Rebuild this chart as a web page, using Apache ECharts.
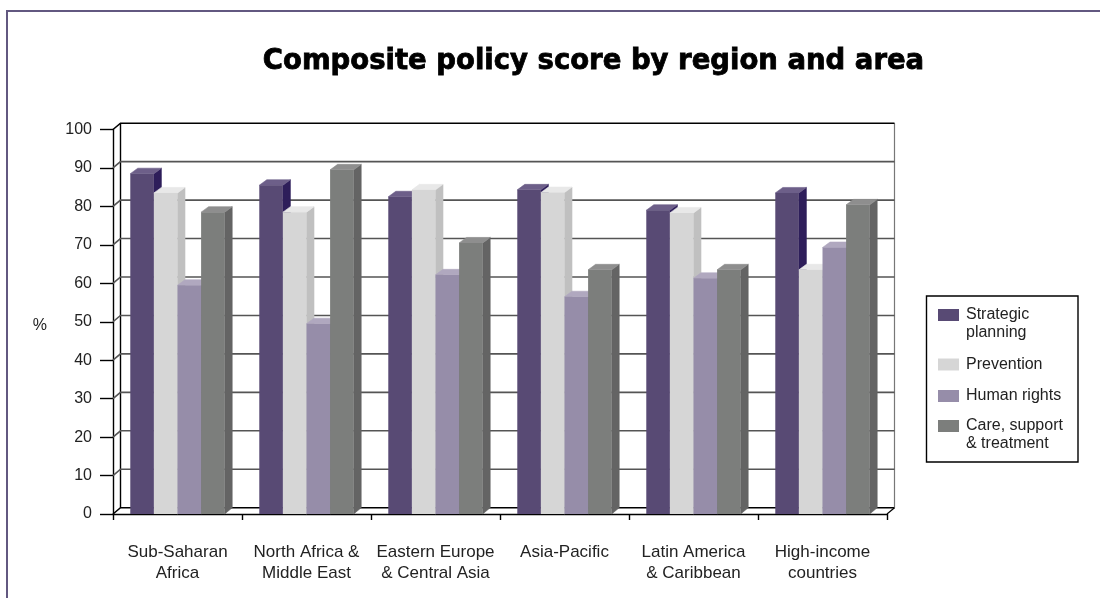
<!DOCTYPE html>
<html>
<head>
<meta charset="utf-8">
<style>html,body{margin:0;padding:0;background:#fff}#c{width:1100px;height:598px}</style>
<script src="https://cdn.jsdelivr.net/npm/echarts@6/dist/echarts.min.js"></script>
</head>
<body>
<div id="c"></div>
<script>
var categories = ['Sub-Saharan\nAfrica', 'North Africa &\nMiddle East', 'Eastern Europe\n& Central Asia', 'Asia-Pacific', 'Latin America\n& Caribbean', 'High-income\ncountries'];
var strategicPlanning = [88.5, 85.5, 82.5, 84.3, 79, 83.5];
var prevention = [83.5, 78.5, 84.3, 83.6, 78.3, 63.5];
var humanRights = [59.5, 49.5, 62.2, 56.5, 61.3, 69.3];
var careSupport = [78.5, 89.5, 70.5, 63.5, 63.5, 80.4];
var yTicks = [0, 10, 20, 30, 40, 50, 60, 70, 80, 90, 100];

var FONT = '"Liberation Sans", Arial, sans-serif';
var DX = 7.5, DY = 6.3, TOPDY = 5.5;
var BAR_FRAC = 0.183;

function faceStyle(c) { return { fill: c, stroke: c, lineWidth: 0.6 }; }

function barSeries(name, values, idx, front, top, side) {
  return {
    type: 'custom',
    name: name,
    coordinateSystem: 'cartesian2d',
    itemStyle: { color: front },
    encode: { x: 0, y: 1 },
    z: 3 + idx,
    data: values.map(function (v, i) { return [i, v]; }),
    renderItem: function (params, api) {
      var cat = api.value(0), val = api.value(1);
      var p = api.coord([cat, val]);
      var b = api.coord([cat, 0]);
      var w = api.size([1, 0])[0] * BAR_FRAC;
      var x = p[0] + (idx - 2) * w;
      var y = p[1], y0 = b[1];
      return {
        type: 'group',
        children: [
          { type: 'polygon', shape: { points: [[x + w, y], [x + w + DX, y - TOPDY], [x + w + DX, y0 - DY], [x + w, y0]] }, style: faceStyle(side) },
          { type: 'polygon', shape: { points: [[x, y], [x + DX, y - TOPDY], [x + w + DX, y - TOPDY], [x + w, y]] }, style: faceStyle(top) },
          { type: 'rect', shape: { x: x, y: y, width: w, height: y0 - y }, style: { fill: front } }
        ]
      };
    }
  };
}

var wallSeries = {
  type: 'custom',
  name: 'wall',
  coordinateSystem: 'cartesian2d',
  silent: true,
  z: 1,
  encode: { x: 0, y: 1 },
  data: yTicks.map(function (t) { return [0, t]; }),
  renderItem: function (params, api) {
    var t = api.value(1);
    var y = api.coord([0, t])[1];
    var left = params.coordSys.x, right = left + params.coordSys.width;
    var dark = (t === 0 || t === 100);
    var col = dark ? '#000' : '#555';
    var kids = [
      { type: 'polyline', shape: { points: [[left, y], [left + DX, y - DY], [right + DX, y - DY]] }, style: { stroke: col, lineWidth: 1.6, fill: null } }
    ];
    if (t === 0) {
      var yTop = api.coord([0, 100])[1];
      kids.push({ type: 'line', shape: { x1: left + DX, y1: y - DY, x2: left + DX, y2: yTop - DY }, style: { stroke: '#000', lineWidth: 1.4 } });
      kids.push({ type: 'line', shape: { x1: right + DX, y1: y - DY, x2: right + DX, y2: yTop - DY }, style: { stroke: '#777', lineWidth: 1.2 } });
      kids.push({ type: 'line', shape: { x1: right, y1: y, x2: right + DX, y2: y - DY }, style: { stroke: '#000', lineWidth: 1.2 } });
    }
    return { type: 'group', children: kids };
  }
};

var legendLabels = {
  'Strategic planning': '\nStrategic\nplanning',
  'Prevention': 'Prevention',
  'Human rights': 'Human rights',
  'Care, support & treatment': '\nCare, support\n& treatment'
};
function legendBase() {
  return {
    orient: 'vertical', left: 938, padding: 0, itemWidth: 21, itemHeight: 12, itemGap: 13.5,
    icon: 'rect', selectedMode: false, align: 'left',
    formatter: function (n) { return legendLabels[n]; },
    textStyle: { fontFamily: FONT, fontSize: 16, lineHeight: 18, color: '#222', padding: [0, 0, 0, 2] }
  };
}
var legendA = legendBase(); legendA.top = 288; legendA.data = ['Strategic planning', 'Prevention', 'Human rights'];
var legendB = legendBase(); legendB.top = 399; legendB.data = ['Care, support & treatment'];

var chart = echarts.init(document.getElementById('c'), null, { renderer: 'canvas' });
chart.setOption({
  animation: false,
  backgroundColor: '#fff',
  title: {
    text: 'Composite policy score by region and area',
    left: 588.5, top: 43, textAlign: 'center',
    textStyle: { fontFamily: '"DejaVu Sans", sans-serif', fontWeight: 'bold', fontSize: 27.5, color: '#000', textBorderColor: '#000', textBorderWidth: 0.8 }
  },
  graphic: [
    { type: 'polyline', silent: true, shape: { points: [[7, 598], [7, 11], [1100, 11]] }, style: { stroke: '#625880', lineWidth: 2, fill: null } },
    { type: 'rect', silent: true, z: -1, shape: { x: 926.5, y: 296, width: 151.5, height: 166 }, style: { fill: '#fff', stroke: '#000', lineWidth: 1.4 } }
  ],
  legend: [legendA, legendB],
  grid: { left: 113, top: 129.5, width: 774, height: 384.5, containLabel: false },
  xAxis: {
    type: 'category',
    data: categories,
    axisLine: { lineStyle: { color: '#000', width: 1.4 } },
    axisTick: { show: true, length: 6, lineStyle: { color: '#000', width: 1.4 } },
    axisLabel: { fontFamily: FONT, fontSize: 17, lineHeight: 21, color: '#222', margin: 28, interval: 0 },
    splitLine: { show: false }
  },
  yAxis: {
    type: 'value', min: 0, max: 100, interval: 10,
    name: '%', nameLocation: 'middle', nameRotate: 0, nameGap: 66,
    nameTextStyle: { fontFamily: FONT, fontSize: 16, color: '#222', verticalAlign: 'top', lineHeight: 7 },
    axisLine: { show: true, lineStyle: { color: '#000', width: 1.4 } },
    axisTick: { show: true, length: 13, lineStyle: { color: '#000', width: 1.4 } },
    axisLabel: { fontFamily: FONT, fontSize: 16, color: '#222', margin: 21 },
    splitLine: { show: false }
  },
  series: [
    wallSeries,
    barSeries('Strategic planning', strategicPlanning, 0, '#584a74', '#6d5f89', '#2e1e5a'),
    barSeries('Prevention', prevention, 1, '#d6d6d6', '#e8e8e8', '#c0c0c0'),
    barSeries('Human rights', humanRights, 2, '#968da9', '#b0a8bf', '#7e7593'),
    barSeries('Care, support & treatment', careSupport, 3, '#7c7e7c', '#8e8e8e', '#646464')
  ]
});
</script>
</body>
</html>
